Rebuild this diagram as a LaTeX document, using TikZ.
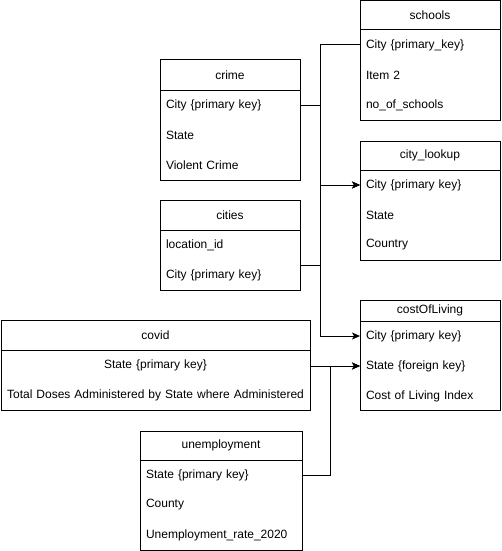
\documentclass[tikz,border=0pt]{standalone}
\usepackage{fontspec}
\setmainfont{Liberation Sans}
\usetikzlibrary{arrows.meta}
\begin{document}
\begin{tikzpicture}[x=1pt,y=-1pt,
  every node/.style={font=\fontsize{12pt}{14pt}\selectfont, inner sep=0pt, outer sep=0pt},
  frame/.style={draw, line width=1pt, anchor=north west},
  hdr/.style={draw, line width=1pt, anchor=north west, align=center},
  rowl/.style={anchor=north west, minimum height=30pt, inner xsep=6pt, text width=#1, align=left},
  rowc/.style={anchor=north west, minimum height=30pt, inner xsep=0pt, text width=#1, align=center},
  conn/.style={draw, line width=1pt},
  arr/.style={conn, -{Stealth[length=8pt,width=7pt,inset=2pt]}}
]
\useasboundingbox (0,0) rectangle (501,551);

% schools
\node[frame, minimum width=140pt, minimum height=119pt] (schools) at (360,1) {};
\node[hdr, minimum width=140pt, minimum height=29pt] (schoolsH) at (360,1) {schools};
\node[rowl=128pt] (schools1) at (360,30) {City \{primary\_key\}};
\node[rowl=128pt] (schools2) at (360,60) {Item 2};
\node[rowl=128pt] (schools3) at (360,90) {no\_of\_schools};

% crime
\node[frame, minimum width=140pt, minimum height=120pt] (crime) at (160,60) {};
\node[hdr, minimum width=140pt, minimum height=30pt] (crimeH) at (160,60) {crime};
\node[rowl=128pt] (crime1) at (160,90) {City \{primary key\}};
\node[rowl=128pt] (crime2) at (160,120) {State};
\node[rowl=128pt] (crime3) at (160,150) {Violent Crime};

% city_lookup
\node[frame, minimum width=140pt, minimum height=119pt] (city) at (360,141) {};
\node[hdr, minimum width=140pt, minimum height=29pt] (cityH) at (360,141) {city\_lookup};
\node[rowl=128pt] (city1) at (360,170) {City \{primary key\}};
\node[rowl=128pt] (city2) at (360,200) {State};
\node[rowl=128pt] (city3) at (360,230) {Country};

% cities
\node[frame, minimum width=140pt, minimum height=90pt] (cities) at (160,200) {};
\node[hdr, minimum width=140pt, minimum height=30pt] (citiesH) at (160,200) {cities};
\node[rowl=128pt] (cities1) at (160,230) {location\_id};
\node[rowl=128pt] (cities2) at (160,260) {City \{primary key\}};

% costOfLiving
\node[frame, minimum width=140pt, minimum height=110pt] (col) at (360,300) {};
\node[hdr, minimum width=140pt, minimum height=21pt] (colH) at (360,300) {costOfLiving};
\node[rowl=128pt] (col1) at (360,321) {City \{primary key\}};
\node[rowl=128pt] (col2) at (360,351) {State \{foreign key\}};
\node[rowl=128pt] (col3) at (360,381) {Cost of Living Index};

% covid
\node[frame, minimum width=309pt, minimum height=90pt] (covid) at (1,320) {};
\node[hdr, minimum width=309pt, minimum height=30pt] (covidH) at (1,320) {covid};
\node[rowc=309pt] (covid1) at (1,350) {State \{primary key\}};
\node[rowc=309pt] (covid2) at (1,380) {Total Doses Administered by State where Administered};

% unemployment
\node[frame, minimum width=162pt, minimum height=119pt] (unemp) at (140,431) {};
\node[hdr, minimum width=162pt, minimum height=29pt] (unempH) at (140,431) {unemployment};
\node[rowl=150pt] (unemp1) at (140,460) {State \{primary key\}};
\node[rowl=150pt] (unemp2) at (140,490) {County};
\node[rowl=150pt] (unemp3) at (140,520) {Unemployment\_rate\_2020};

% connectors
\draw[conn] (crime1.east) -- ++(20,0) |- (schools1.west);
\draw[arr] (crime1.east) -- ++(20,0) |- (city1.west);
\coordinate (citiesOut) at ([yshift=10pt]cities2.east);
\draw[arr] (citiesOut) -- ++(20,0) |- (city1.west);
\draw[arr] (citiesOut) -- ++(20,0) |- (col1.west);
\draw[arr] (covid1.east |- col2.west) -- (col2.west);
\draw[arr] (unemp1.east) -- ++(28,0) |- (col2.west);
\end{tikzpicture}
\end{document}
